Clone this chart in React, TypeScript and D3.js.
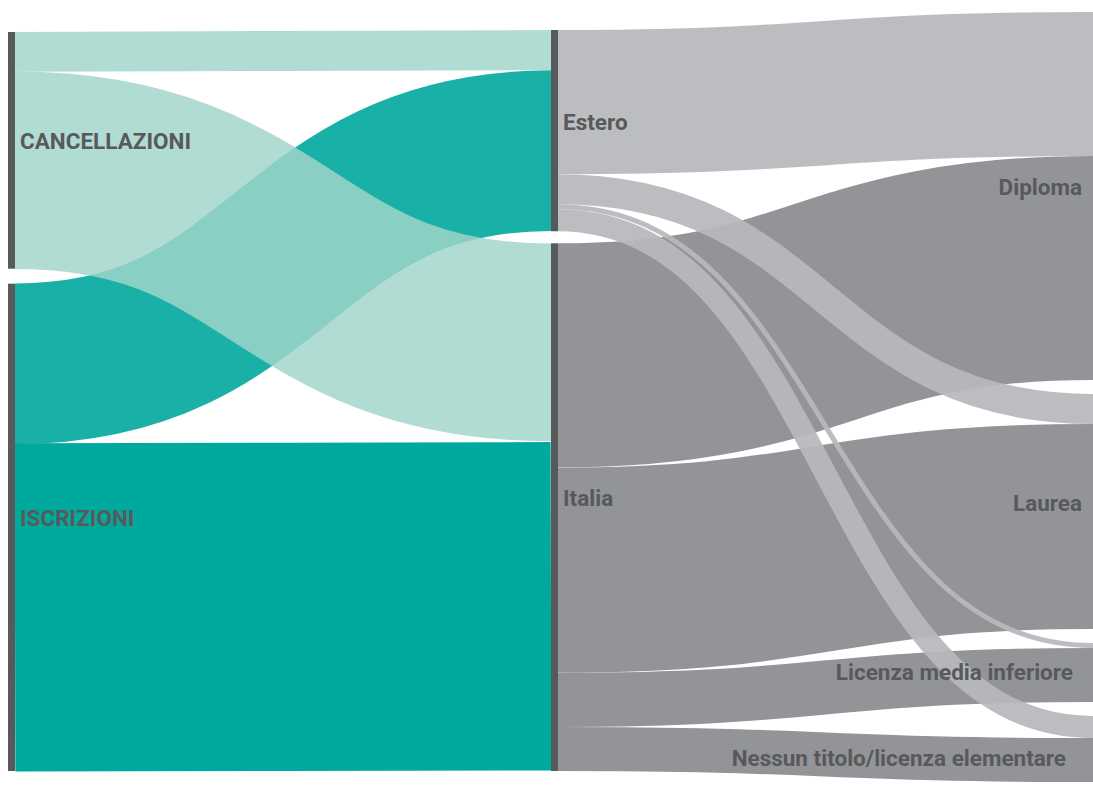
import React from "react";
import * as d3 from "d3";

// ---- data ----
const sources = ["CANCELLAZIONI", "ISCRIZIONI"];
const origins = ["Estero", "Italia"];
const titles = [
  "Diploma",
  "Laurea",
  "Licenza media inferiore",
  "Nessun titolo/licenza elementare",
];
// rows: sources, columns: origins
const sourceToOrigin = [
  [40, 198],
  [161, 329],
];
// rows: origins, columns: titles
const originToTitle = [
  [144, 30, 5, 22],
  [224, 205, 54, 44],
];

// ---- style / layout ----
const W = 1093;
const H = 785;
const NODE_W = 7;
const FONT = "Roboto, 'Noto Sans', sans-serif";
const TEXT_COLOR = "#58595b";
const NODE_COLOR = "#58595b";

type Column = { x0: number; top: number; bottom: number; gap: number };
const columns: Column[] = [
  { x0: 8, top: 32, bottom: 771, gap: 15 },
  { x0: 551, top: 30, bottom: 771, gap: 12 },
  { x0: 1093, top: 12, bottom: 782, gap: 14 },
];

const linkStyle: Record<string, { color: string; opacity: number }> = {
  "CANCELLAZIONI": { color: "#a1d5ca", opacity: 0.83 },
  "ISCRIZIONI>Estero": { color: "#00a89d", opacity: 0.9 },
  "ISCRIZIONI>Italia": { color: "#00a99d", opacity: 1 },
  "Estero": { color: "#b7b8bb", opacity: 0.935 },
  "Italia": { color: "#939497", opacity: 1 },
};

const labelNudge: Record<string, [number, number]> = {
  "Licenza media inferiore": [-9, 8],
  "Nessun titolo/licenza elementare": [-16, 18],
};

type Node = { name: string; value: number; y0: number; y1: number; x0: number; x1: number; k: number; col: number };

function layoutColumn(names: string[], values: number[], col: number): Node[] {
  const c = columns[col];
  const total = d3.sum(values);
  const k = (c.bottom - c.top - c.gap * (names.length - 1)) / total;
  const scale = d3.scaleLinear().domain([0, total]).range([0, total * k]);
  let y = c.top;
  return names.map((name, i) => {
    const h = scale(values[i]);
    const n = { name, value: values[i], y0: y, y1: y + h, x0: c.x0, x1: c.x0 + NODE_W, k, col };
    y += h + c.gap;
    return n;
  });
}

function buildLinks(srcNodes: Node[], tgtNodes: Node[], matrix: number[][]) {
  const srcOff = srcNodes.map(() => 0);
  const tgtOff = tgtNodes.map(() => 0);
  const tmp: any[] = [];
  // outgoing stacked by target order
  matrix.forEach((row, i) =>
    row.forEach((v, j) => {
      const s = srcNodes[i];
      const ws = v * s.k;
      const yS = s.y0 + srcOff[i] + ws / 2;
      srcOff[i] += ws;
      tmp.push({ i, j, v, yS, ws });
    })
  );
  // incoming stacked by source order
  tgtNodes.forEach((t, j) => {
    tmp
      .filter((l) => l.j === j)
      .sort((a, b) => a.i - b.i)
      .forEach((l) => {
        const wt = l.v * t.k;
        l.yT = t.y0 + tgtOff[j] + wt / 2;
        tgtOff[j] += wt;
        l.width = (l.ws + wt) / 2;
      });
  });
  return tmp.map((l) => ({
    source: srcNodes[l.i],
    target: tgtNodes[l.j],
    value: l.v,
    y0: l.yS,
    y1: l.yT,
    width: l.width,
  }));
}

export default function App() {
  const leftNodes = layoutColumn(sources, sourceToOrigin.map((r) => d3.sum(r)), 0);
  const midNodes = layoutColumn(origins, originToTitle.map((r) => d3.sum(r)), 1);
  const rightNodes = layoutColumn(
    titles,
    titles.map((_, j) => d3.sum(originToTitle, (r) => r[j])),
    2
  );

  const links1 = buildLinks(leftNodes, midNodes, sourceToOrigin);
  const links2 = buildLinks(midNodes, rightNodes, originToTitle);

  const linkGen = d3
    .linkHorizontal<any, [number, number]>()
    .source((d: any) => [d.source.x1, d.y0])
    .target((d: any) => [d.target.x0, d.y1]);

  const styleOf = (l: any) =>
    linkStyle[`${l.source.name}>${l.target.name}`] || linkStyle[l.source.name];

  const ordered = [
    ...links2.filter((l) => l.source.name === "Italia"),
    ...links2.filter((l) => l.source.name === "Estero"),
    ...links1.filter((l) => l.source.name === "ISCRIZIONI").reverse(),
    ...links1.filter((l) => l.source.name === "CANCELLAZIONI"),
  ];

  const label = (n: Node, anchor: "start" | "end") => {
    const nudge = labelNudge[n.name] || [0, 0];
    const x = anchor === "start" ? n.x1 + 5 : W - 11;
    const y = (n.y0 + n.y1) / 2 - 1;
    return (
      <text
        key={"t" + n.name}
        x={x + nudge[0]}
        y={y + nudge[1]}
        textAnchor={anchor}
        fill={TEXT_COLOR}
        fontFamily={FONT}
        fontWeight={700}
        fontSize={22.5}
      >
        {n.name}
      </text>
    );
  };

  return (
    <svg
      width={W}
      height={H}
      style={{ position: "absolute", left: 0, top: 0, background: "#fff" }}
    >
      <g fill="none">
        {ordered.map((l, i) => {
          const s = styleOf(l);
          return (
            <path
              key={i}
              d={linkGen(l) as string}
              stroke={s.color}
              strokeOpacity={s.opacity}
              strokeWidth={l.width}
            />
          );
        })}
      </g>
      <g>
        {[...leftNodes, ...midNodes].map((n) => (
          <rect
            key={n.name}
            x={n.x0}
            y={n.y0}
            width={n.x1 - n.x0}
            height={n.y1 - n.y0}
            fill={NODE_COLOR}
          />
        ))}
      </g>
      <g>
        {leftNodes.map((n) => label(n, "start"))}
        {midNodes.map((n) => label(n, "start"))}
        {rightNodes.map((n) => label(n, "end"))}
      </g>
    </svg>
  );
}
